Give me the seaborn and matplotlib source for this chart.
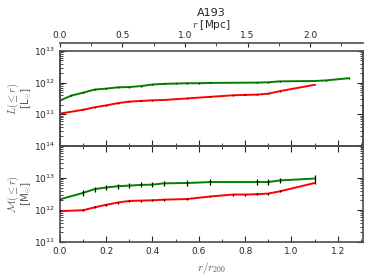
#%% A193 - luminosidade e massa cumulativas

import numpy as np
import pandas as pd
import matplotlib
matplotlib.use('Agg')
import matplotlib.pyplot as plt
import seaborn as sns
from matplotlib.ticker import MultipleLocator, LogLocator, NullFormatter

#%% Dados (log10)

r200_mpc = 1.85

x_lum_verde = [0.0, 0.05, 0.10, 0.15, 0.20, 0.25, 0.30, 0.35, 0.40, 0.45, 0.50,
               0.55, 0.60, 0.65, 0.85, 0.90, 0.95, 1.10, 1.15, 1.25]
logL_verde = [11.43, 11.59, 11.68, 11.78, 11.81, 11.85, 11.86, 11.89, 11.94, 11.96, 11.97,
              11.98, 11.98, 11.99, 12.00, 12.01, 12.04, 12.05, 12.07, 12.14]

x_vermelho = [0.0, 0.10, 0.15, 0.20, 0.25, 0.30, 0.35, 0.40, 0.45, 0.55,
              0.65, 0.75, 0.80, 0.85, 0.90, 0.95, 1.10]
logL_vermelho = [11.02, 11.14, 11.22, 11.28, 11.35, 11.40, 11.42, 11.44, 11.45, 11.50,
                 11.55, 11.60, 11.61, 11.62, 11.65, 11.73, 11.93]

x_massa_verde = [0.0, 0.10, 0.15, 0.20, 0.25, 0.30, 0.35, 0.40, 0.45, 0.55,
                 0.65, 0.85, 0.90, 0.95, 1.10]
logM_verde = [12.33, 12.53, 12.65, 12.70, 12.74, 12.76, 12.78, 12.79, 12.83, 12.84,
              12.87, 12.87, 12.87, 12.92, 12.98]
errM_verde = [0.01, 0.08, 0.08, 0.08, 0.08, 0.08, 0.08, 0.08, 0.08, 0.08,
              0.08, 0.08, 0.08, 0.08, 0.10]

logM_vermelho = [11.96, 11.99, 12.08, 12.16, 12.23, 12.28, 12.29, 12.30, 12.32, 12.34,
                 12.42, 12.48, 12.48, 12.49, 12.51, 12.58, 12.84]

#%% Estilo

sns.set_style('ticks')
plt.rcParams['font.family'] = ['DejaVu Sans']
plt.rcParams['mathtext.fontset'] = 'cm'
plt.rcParams['xtick.direction'] = 'in'
plt.rcParams['ytick.direction'] = 'in'
plt.rcParams['xtick.top'] = True
plt.rcParams['ytick.right'] = True
plt.rcParams['axes.edgecolor'] = '0.3'
plt.rcParams['axes.linewidth'] = 1.2

verde = '#007f00'
vermelho = '#ff0000'

def desenha(ax, x, logy, cor, err_dex):
    y = 10 ** np.array(logy)
    err = np.array(err_dex)
    df = pd.DataFrame({'x': x, 'y': y})
    sns.lineplot(data=df, x='x', y='y', color=cor, lw=1.4, ax=ax)
    ax.errorbar(x, y, yerr=[y - y / 10 ** err, y * 10 ** err - y],
                fmt='none', ecolor='k', elinewidth=0.9, capsize=0, zorder=3)

#%% Figura

fig = plt.figure(figsize=(3.74, 2.8), dpi=100)
ax1 = fig.add_axes([0.16, 0.479, 0.811, 0.339])
ax2 = fig.add_axes([0.16, 0.136, 0.811, 0.343], sharex=ax1)

desenha(ax1, x_lum_verde, logL_verde, verde, [0.015] * len(x_lum_verde))
desenha(ax1, x_vermelho, logL_vermelho, vermelho, [0.015] * len(x_vermelho))
desenha(ax2, x_massa_verde, logM_verde, verde, errM_verde)
desenha(ax2, x_vermelho, logM_vermelho, vermelho, [0.03] * len(x_vermelho))

for ax in (ax1, ax2):
    ax.set_yscale('log')
    ax.set_xlim(0, 1.31)
    ax.xaxis.set_major_locator(MultipleLocator(0.2))
    ax.xaxis.set_minor_locator(MultipleLocator(0.1))
    ax.yaxis.set_minor_locator(LogLocator(base=10, subs=np.arange(2, 10), numticks=20))
    ax.yaxis.set_minor_formatter(NullFormatter())
    ax.tick_params(which='both', direction='in', top=True, right=True, labelsize=6.5)
    ax.tick_params(which='major', length=4, width=0.8)
    ax.tick_params(which='minor', length=2, width=0.6)
    ax.set_xlabel('')

ax1.set_ylim(1e10, 1e13)
ax1.set_yticks([1e11, 1e12, 1e13])
ax1.tick_params(labelbottom=False)
ax2.set_ylim(1e11, 1e14)
ax2.set_yticks([1e11, 1e12, 1e13, 1e14])

ax1.set_ylabel('$L(\\leq r)$\n[L$_{\\odot}$]', fontsize=7.5, color='0.35', linespacing=0.9)
ax2.set_ylabel('$\\mathcal{M}(\\leq r)$\n[M$_{\\odot}$]', fontsize=7.5, color='0.35', linespacing=0.9)
ax1.yaxis.set_label_coords(-0.085, 0.5)
ax2.yaxis.set_label_coords(-0.085, 0.5)
ax2.set_xlabel('$r/r_{200}$', fontsize=8, color='0.35', labelpad=3)

# eixo superior em Mpc
ax_top = ax1.twiny()
ax_top.set_xlim(0, 1.31 * r200_mpc)
ax_top.spines['top'].set_position(('outward', 6))
ax_top.xaxis.set_major_locator(MultipleLocator(0.5))
ax_top.xaxis.set_minor_locator(MultipleLocator(0.25))
ax_top.tick_params(which='both', direction='in', labelsize=6.5, pad=2)
ax_top.tick_params(which='major', length=3)
ax_top.tick_params(which='minor', length=2)
ax_top.set_xlabel('$r$ [Mpc]', fontsize=7.5, labelpad=2)
ax_top.set_title('A193', fontsize=8, pad=1)

plt.savefig('out.png', dpi=100)
